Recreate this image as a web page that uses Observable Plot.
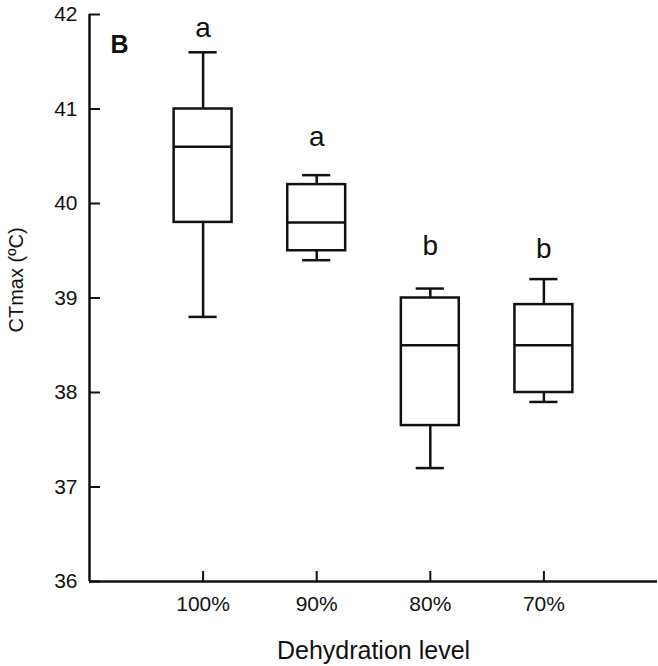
<!DOCTYPE html>
<html>
<head>
<meta charset="utf-8">
<script src="https://cdn.jsdelivr.net/npm/d3@7"></script>
<script src="https://cdn.jsdelivr.net/npm/@observablehq/plot@0.6"></script>
<style>
  html, body { margin: 0; padding: 0; background: white; }
  #chart svg { display: block; }
</style>
</head>
<body>
<div id="chart"></div>
<script>
// Data
const categories = ["100%", "90%", "80%", "70%"];
const whiskerMin = [38.8, 39.4, 37.2, 37.9];
const quart1 = [39.8, 39.5, 37.65, 38.0];
const medians = [40.6, 39.8, 38.5, 38.5];
const quart3 = [41.0, 40.2, 39.0, 38.93];
const whiskerMax = [41.6, 40.3, 39.1, 39.2];
const groupLetters = ["a", "a", "b", "b"];
const letterValues = [41.76, 40.61, 39.45, 39.42];
const yTicks = [36, 37, 38, 39, 40, 41, 42];
const panelLabel = "B";
const xTitle = "Dehydration level";
const yTitle = "CTmax (ºC)";

const rows = categories.map((c, i) => ({
  pos: i + 1,
  cat: c,
  min: whiskerMin[i],
  q1: quart1[i],
  med: medians[i],
  q3: quart3[i],
  max: whiskerMax[i],
  letter: groupLetters[i],
  ly: letterValues[i]
}));

const boxHalf = 0.255;
const capHalf = 0.124;
const sw = 2.5;
const ink = "#111";

const chart = Plot.plot({
  width: 658,
  height: 666,
  marginLeft: 89,
  marginRight: 1,
  marginTop: 14,
  marginBottom: 85,
  x: {domain: [0, categories.length + 1]},
  y: {domain: [36, 42]},
  style: {
    fontFamily: "'Liberation Sans', Arial, sans-serif",
    fontSize: "21px",
    color: ink,
    background: "white"
  },
  marks: [
    // whiskers
    Plot.ruleX(rows, {x: "pos", y1: "q3", y2: "max", stroke: ink, strokeWidth: sw}),
    Plot.ruleX(rows, {x: "pos", y1: "min", y2: "q1", stroke: ink, strokeWidth: sw}),
    // caps
    Plot.ruleY(rows, {y: "max", x1: d => d.pos - capHalf, x2: d => d.pos + capHalf, stroke: ink, strokeWidth: sw}),
    Plot.ruleY(rows, {y: "min", x1: d => d.pos - capHalf, x2: d => d.pos + capHalf, stroke: ink, strokeWidth: sw}),
    // boxes
    Plot.rect(rows, {x1: d => d.pos - boxHalf, x2: d => d.pos + boxHalf, y1: "q1", y2: "q3", fill: "white", stroke: ink, strokeWidth: sw}),
    // medians
    Plot.ruleY(rows, {y: "med", x1: d => d.pos - boxHalf, x2: d => d.pos + boxHalf, stroke: ink, strokeWidth: sw}),
    // significance letters
    Plot.text(rows, {x: "pos", y: "ly", text: "letter", lineAnchor: "bottom", fontSize: 28, fill: ink}),
    // axes
    Plot.axisX({
      ticks: rows.map(d => d.pos),
      tickFormat: d => categories[d - 1],
      tickSize: -10,
      tickPadding: 25,
      strokeWidth: 2,
      fontSize: 21,
      label: null
    }),
    Plot.axisY({
      ticks: yTicks,
      tickFormat: d => String(d),
      tickSize: -11,
      tickPadding: 23,
      strokeWidth: 2,
      fontSize: 21,
      label: null
    }),
    Plot.ruleY([36], {stroke: ink, strokeWidth: sw}),
    Plot.ruleX([0], {stroke: ink, strokeWidth: sw}),
    // panel label
    Plot.text([panelLabel], {frameAnchor: "top-left", dx: 21, dy: 21, textAnchor: "start", lineAnchor: "top", fontSize: 25, fontWeight: "bold", fill: ink}),
    // axis titles
    Plot.text([xTitle], {frameAnchor: "bottom", dy: 77, textAnchor: "middle", lineAnchor: "bottom", fontSize: 25, fill: ink}),
    Plot.text([yTitle], {frameAnchor: "left", dx: -73, dy: -18, textAnchor: "middle", rotate: -90, fontSize: 20, fill: ink})
  ]
});

document.getElementById("chart").appendChild(chart);
</script>
</body>
</html>
